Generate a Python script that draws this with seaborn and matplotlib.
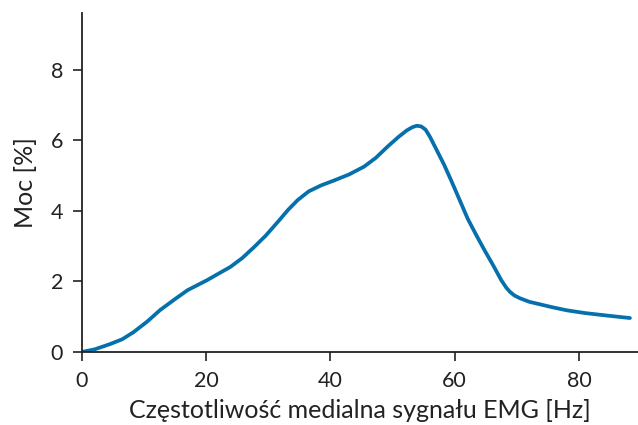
import matplotlib
matplotlib.use("Agg")
import matplotlib.pyplot as plt
import seaborn as sns
import pandas as pd

# median EMG frequency [Hz] vs power [%]
freq = [0, 2, 4.5, 6.5, 8.3, 10.5, 12.6, 15, 17, 20.1, 22, 23.9, 25.8, 27.7, 29.6, 31.5, 33.2,
        34.7, 36.5, 38.5, 40.6, 43, 45.4, 47.3, 49.2, 51, 52.3, 53.2, 53.9, 54.6, 55.3, 56,
        57.3, 58.3, 59.45, 61, 62.1, 63.5, 64.8, 66.2, 67.5, 68.3, 68.9, 69.6, 70.5, 72,
        75.6, 78, 81, 84.5, 88.2]
power = [0, 0.07, 0.22, 0.36, 0.56, 0.86, 1.19, 1.5, 1.75, 2.03, 2.22, 2.41, 2.66, 2.97, 3.3, 3.68, 4.03,
         4.3, 4.55, 4.72, 4.86, 5.03, 5.25, 5.5, 5.82, 6.1, 6.28, 6.37, 6.41, 6.39, 6.3, 6.1,
         5.65, 5.3, 4.85, 4.22, 3.77, 3.3, 2.88, 2.45, 2.03, 1.82, 1.7, 1.6, 1.52, 1.42,
         1.27, 1.18, 1.1, 1.03, 0.96]

df = pd.DataFrame({"freq": freq, "power": power})

sns.set_theme(style="ticks")
plt.rcParams["font.family"] = ["Lato", "DejaVu Sans"]

fig = plt.figure(figsize=(6.38, 4.25), dpi=100)
ax = fig.add_axes([0.1285, 0.172, 0.8715, 0.797])

sns.lineplot(data=df, x="freq", y="power", color="#0570ac", linewidth=2.7, ax=ax)

ax.set_xlim(0, 89.5)
ax.set_ylim(0, 9.6)
ax.set_xticks([0, 20, 40, 60, 80])
ax.set_yticks([0, 2, 4, 6, 8])
ax.set_xlabel("Częstotliwość medialna sygnału EMG [Hz]", fontsize=18, color="#222222", labelpad=6)
ax.set_ylabel("Moc [%]", fontsize=18, color="#222222", labelpad=10)
ax.tick_params(labelsize=15.5, colors="#222222", length=6.5, width=1.2, pad=7)

sns.despine(ax=ax)
for s in ["left", "bottom"]:
    ax.spines[s].set_color("#222222")
    ax.spines[s].set_linewidth(1.3)

plt.savefig("out.png", dpi=100)
